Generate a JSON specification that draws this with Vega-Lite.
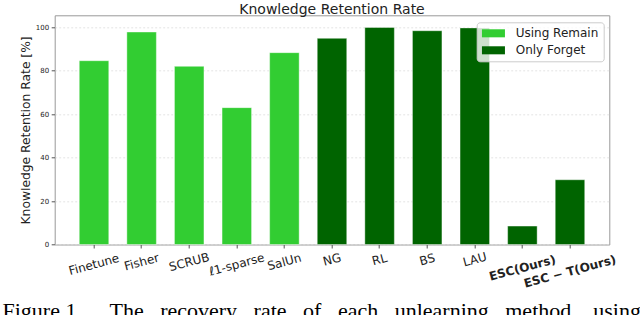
{
  "$schema": "https://vega.github.io/schema/vega-lite/v6.json",
  "width": 554.6,
  "height": 229.2,
  "autosize": {"type": "none"},
  "padding": {"left": 54.7, "top": 15.3, "right": 30.7, "bottom": 70.5},
  "background": "white",
  "title": {
    "text": "Knowledge Retention Rate",
    "font": "DejaVu Sans",
    "fontSize": 14,
    "fontWeight": "normal",
    "color": "#222222",
    "anchor": "middle",
    "offset": -1.5
  },
  "config": {
    "view": {"stroke": "#999999", "strokeWidth": 1},
    "axis": {
      "domain": false,
      "tickColor": "#555555",
      "tickSize": 3.5,
      "labelColor": "#222222",
      "titleColor": "#222222",
      "labelFont": "DejaVu Sans",
      "titleFont": "DejaVu Sans",
      "titleFontWeight": "normal"
    }
  },
  "data": {
    "values": [
      {"method": "Finetune", "rate": 84.6, "group": "Using Remain"},
      {"method": "Fisher", "rate": 97.8, "group": "Using Remain"},
      {"method": "SCRUB", "rate": 82.0, "group": "Using Remain"},
      {"method": "ℓ1-sparse", "rate": 63.0, "group": "Using Remain"},
      {"method": "SalUn", "rate": 88.3, "group": "Using Remain"},
      {"method": "NG", "rate": 94.9, "group": "Only Forget"},
      {"method": "RL", "rate": 99.9, "group": "Only Forget"},
      {"method": "BS", "rate": 98.4, "group": "Only Forget"},
      {"method": "LAU", "rate": 99.7, "group": "Only Forget"},
      {"method": "ESC(Ours)", "rate": 8.5, "group": "Only Forget"},
      {"method": "ESC − T(Ours)", "rate": 29.8, "group": "Only Forget"}
    ]
  },
  "mark": {"type": "bar", "stroke": "#ffffff", "strokeOpacity": 0.4, "strokeWidth": 1},
  "encoding": {
    "x": {
      "field": "method",
      "type": "nominal",
      "sort": null,
      "scale": {"paddingInner": 0.38, "paddingOuter": 0.516},
      "axis": {
        "title": "Figure 1.  \u00a0\u00a0\u00a0\u00a0The \u00a0\u00a0recovery \u00a0\u00a0rate \u00a0\u00a0of \u00a0\u00a0each \u00a0\u00a0unlearning \u00a0\u00a0method \u00a0\u00a0\u00a0using",
        "titleFont": "Liberation Serif",
        "titleFontSize": 22,
        "titleColor": "#000000",
        "titleX": -52.7,
        "titleY": 72.5,
        "titleAlign": "left",
        "titleBaseline": "alphabetic",
        "titleAnchor": "start",
        "titleLimit": 2000,
        "labelAngle": -15,
        "labelFontSize": 12,
        "labelAlign": "center",
        "labelBaseline": "middle",
        "labelFontWeight": {
          "condition": {"test": "indexof(datum.value, 'Ours') >= 0", "value": "bold"},
          "value": "normal"
        },
        "labelPadding": {
          "condition": [
            {"test": "datum.value === 'ESC − T(Ours)'", "value": 23},
            {"test": "datum.value === 'ESC(Ours)'", "value": 19.5},
            {"test": "datum.value === 'Finetune' || datum.value === 'ℓ1-sparse'", "value": 16},
            {"test": "datum.value === 'NG' || datum.value === 'RL' || datum.value === 'BS' || datum.value === 'LAU'", "value": 11}
          ],
          "value": 13.5
        },
        "grid": false
      }
    },
    "y": {
      "field": "rate",
      "type": "quantitative",
      "scale": {"domain": [0, 105.5], "nice": false},
      "axis": {
        "title": "Knowledge Retention Rate [%]",
        "titleFontSize": 12.3,
        "titleX": -29.5,
        "titleY": 114.6,
        "titleBaseline": "middle",
        "titleAngle": -90,
        "values": [0, 20, 40, 60, 80, 100],
        "labelFontSize": 7,
        "labelPadding": 2.5,
        "grid": true,
        "gridColor": "#dddddd",
        "gridDash": [2, 2],
        "gridWidth": 0.8
      }
    },
    "color": {
      "field": "group",
      "type": "nominal",
      "scale": {"domain": ["Using Remain", "Only Forget"], "range": ["#32cd32", "#006400"]},
      "legend": {
        "title": null,
        "orient": "none",
        "legendX": 422,
        "legendY": 7,
        "direction": "vertical",
        "symbolType": "M-1,-0.7L3,-0.7L3,0.7L-1,0.7Z",
        "symbolSize": 132.25,
        "symbolStrokeWidth": 0,
        "symbolOpacity": 1,
        "labelFont": "DejaVu Sans",
        "labelFontSize": 12,
        "labelColor": "#222222",
        "labelOffset": 22,
        "padding": 5,
        "rowPadding": 5,
        "fillColor": "rgba(255,255,255,0.8)",
        "strokeColor": "#cccccc",
        "cornerRadius": 3
      }
    }
  }
}
